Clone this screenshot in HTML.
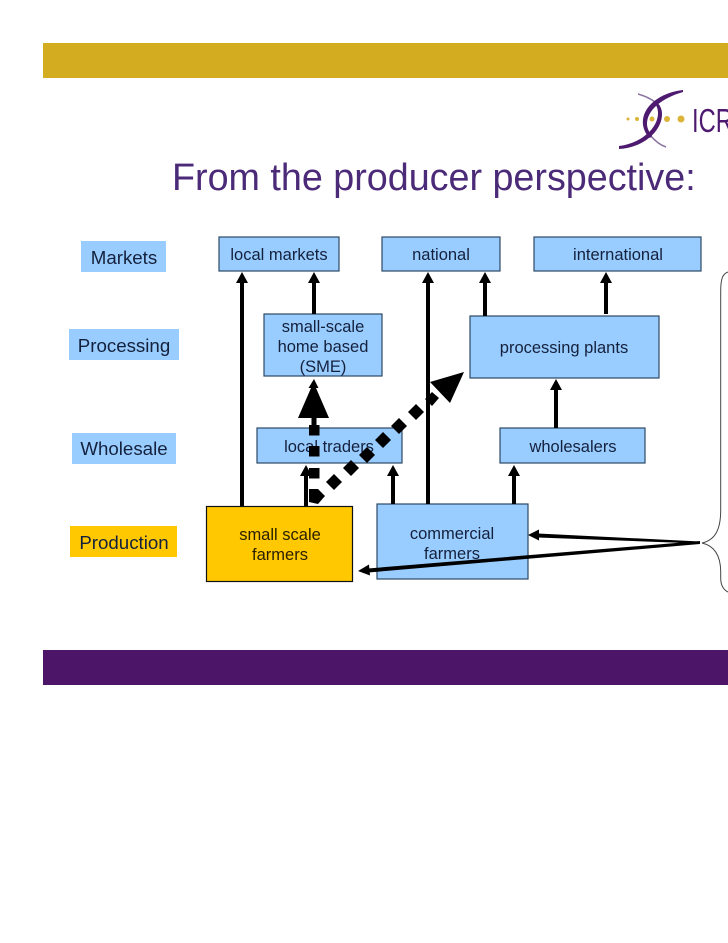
<!DOCTYPE html>
<html><head><meta charset="utf-8"><style>
html,body{margin:0;padding:0;background:#fff}
svg{display:block}
text{font-family:"Liberation Sans",sans-serif}
.t{font-size:16.5px;fill:#14213d;text-anchor:middle}
.l{font-size:18.7px;fill:#14213d;text-anchor:middle}
</style></head><body>
<svg width="728" height="943" viewBox="0 0 728 943" xmlns="http://www.w3.org/2000/svg">
<rect width="728" height="943" fill="#fff"/>
<rect x="43" y="43" width="685" height="35" fill="#d4ac20"/>
<rect x="43" y="650" width="685" height="35" fill="#4d1568"/>
<!-- logo -->
<g fill="none">
<path d="M638 94C645 96 651 99 655 102M650 135C655 141 660 145 666 147" stroke="#8a74a0" stroke-width="1.5"/>
</g>
<g fill="#4d1a70">
<path d="M683 90C658 93 641 108 643 125C644 131 647 136 650 138L652 136C649 132 647 128 647 124C647 110 662 98 683 92z"/>
<path d="M619 146C638 144 658 130 658 113C658 108 656 105 654 102L656 101C660 105 662 109 662 114C662 132 642 148 619 149z"/>
</g>
<g fill="#dcb43a"><circle cx="628" cy="119" r="1.5"/><circle cx="637" cy="119" r="2"/><circle cx="652" cy="119" r="2.5"/><circle cx="667" cy="119" r="3"/><circle cx="681" cy="119" r="3.5"/></g>
<text transform="translate(692 132) scale(.72 1)" font-size="33" fill="#4d1a70">ICR</text>
<text x="172" y="190" font-size="37.7" fill="#4b2a78">From the producer perspective:</text>
<!-- left labels -->
<g fill="#99ccff">
<rect x="81" y="241" width="85" height="31"/>
<rect x="69" y="329" width="110" height="31"/>
<rect x="72" y="433" width="104" height="31"/>
</g>
<rect x="70" y="526" width="107" height="31" fill="#ffc800"/>
<text class="l" x="124" y="264">Markets</text>
<text class="l" x="124" y="352">Processing</text>
<text class="l" x="124" y="455">Wholesale</text>
<text class="l" x="124" y="549">Production</text>
<!-- boxes -->
<g fill="#99ccff" stroke="#2c4a63" stroke-width="1.2">
<rect x="219" y="237" width="120" height="34"/>
<rect x="382" y="237" width="118" height="34"/>
<rect x="534" y="237" width="167" height="34"/>
<rect x="264" y="314" width="118" height="62"/>
<rect x="470" y="316" width="189" height="62"/>
<rect x="257" y="428" width="145" height="35"/>
<rect x="500" y="428" width="145" height="35"/>
<rect x="377" y="504" width="151" height="75"/>
</g>
<rect x="206.500" y="506.500" width="146" height="75" fill="#ffc800" stroke="#111" stroke-width="1.2"/>
<!-- solid arrows -->
<g stroke="#000" stroke-width="4" fill="none">
<path d="M242 506V282M314 314V282M428 504V282M485 316V282M606 314V282M556 428V390M306 506V476M393 504V476M514 504V476"/>
</g>
<g fill="#000">
<path d="M242 272l-6 11h12zM314 272l-6 11h12zM428 272l-6 11h12zM485 272l-6 11h12zM606 272l-6 11h12zM556 379l-6 11h12zM306 465l-6 11h12zM393 465l-6 11h12zM514 465l-6 11h12z"/>
</g>
<!-- text -->
<text class="t" x="279" y="260">local markets</text>
<text class="t" x="441" y="260">national</text>
<text class="t" x="618" y="260">international</text>
<text class="t" x="323" y="332">small-scale</text>
<text class="t" x="323" y="352">home based</text>
<text class="t" x="323" y="372">(SME)</text>
<text class="t" x="564" y="353">processing plants</text>
<text class="t" x="329" y="452">local traders</text>
<text class="t" x="573" y="452">wholesalers</text>
<text class="t" x="280" y="540" style="fill:#2a2000">small scale</text>
<text class="t" x="280" y="560" style="fill:#2a2000">farmers</text>
<text class="t" x="452" y="539">commercial</text>
<text class="t" x="452" y="559">farmers</text>
<!-- dashed thick arrows -->
<g fill="#000">
<path d="M314 379l-5.500 9h2.500l-13 30h31l-13-30h2.500z"/>
<path d="M311.500 417h5v10h-5z"/>
<rect x="309" y="425" width="10.500" height="10.500"/>
<rect x="309" y="446" width="10.500" height="10.500"/>
<rect x="309" y="468" width="10.500" height="10.500"/>
<path d="M309 489h9l7 7-7 8-9-2z"/>
<path d="M334 474l8 8-8 8-8-8zM351 460l8 8-8 8-8-8zM367 447l8 8-8 8-8-8zM383 432l8 8-8 8-8-8zM399 418l8 8-8 8-8-8zM416 404l8 8-8 8-8-8zM432 392l7 6-7 8-7-7z"/>
<path d="M464 372l-34 10 20 21z"/>
</g>
<!-- brace -->
<path d="M728 272C722 274 720.700 280 720.700 292V510C720.700 530 715 540 702 543C715 546 720.700 556 720.700 572V578C720.700 586 724 590 728 592" fill="none" stroke="#444" stroke-width="1"/>
<!-- brace arrows -->
<g fill="#000"><path d="M700 541.500L538 533.500V537.500L700 543.500zM700 541L368 568.500l.5 4L700 544z"/><path d="M528 535l11-5.500v11zM358 571l11-6.500 1 11z"/></g>
</svg>
</body></html>
